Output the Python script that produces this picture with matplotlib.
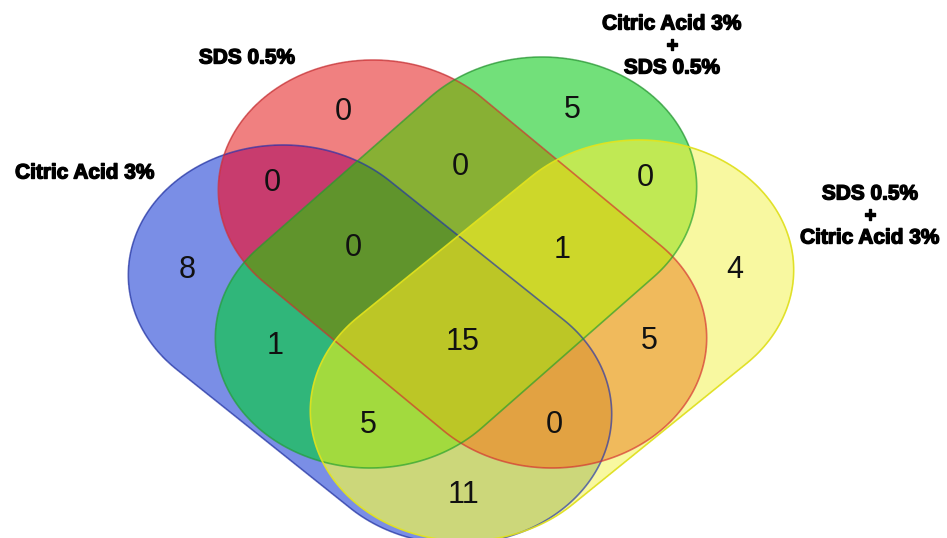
import numpy as np
import matplotlib
matplotlib.use('Agg')
import matplotlib.pyplot as plt
from matplotlib.path import Path
from matplotlib.patches import PathPatch
import matplotlib.patheffects as pe

W, H = 947, 538
STRETCH = 1.19   # picture is wider than tall, caps come out as half ellipses
RADIUS = 130

# sets: blue, red, green, yellow
set_names = ['Citric Acid 3%', 'SDS 0.5%',
             'Citric Acid 3%\n+\nSDS 0.5%', 'SDS 0.5%\n+\nCitric Acid 3%']
set_edges = ['#1c2fae', '#d42a2e', '#1f9e2c', '#e4e41c']

# region key = membership in (blue, red, green, yellow)
regions = ['1000', '0100', '0010', '0001', '1100', '0110', '0011', '1010',
           '0101', '1001', '1110', '0111', '1011', '1101', '1111']
counts = [8, 0, 5, 4, 0, 0, 0, 1, 5, 11, 0, 1, 5, 0, 15]
region_colors = ['#7a8ee6', '#f08080', '#72e07a', '#f8f8a0', '#c83c6e',
                 '#88b034', '#c0ea54', '#30b67a', '#f0ba5c', '#ccd87a',
                 '#60942c', '#cdd82a', '#a2da3e', '#e2a242', '#bcc626']

# layout (pixels)
caps = [((283, 275), (457, 414)),
        ((373, 190), (552, 338)),
        ((542, 187), (370, 338)),
        ((639, 270), (465, 411))]
count_pos = [(187, 270), (343, 112), (572, 110), (735, 270), (272, 183),
             (460, 167), (645, 178), (275, 346), (649, 341), (463, 495),
             (353, 248), (562, 250), (368, 425), (554, 425), (463, 342)]
name_pos = [(85, 173), (247, 58), (672, 46), (870, 216)]


def stadium(c1, c2, r=RADIUS, s=STRETCH, n=120):
    u1 = np.array([c1[0] / s, c1[1]])
    u2 = np.array([c2[0] / s, c2[1]])
    d = u2 - u1
    phi = np.arctan2(d[1], d[0])
    t2 = np.linspace(phi - np.pi / 2, phi + np.pi / 2, n)
    t1 = np.linspace(phi + np.pi / 2, phi + 3 * np.pi / 2, n)
    pts = np.vstack([u2 + r * np.c_[np.cos(t2), np.sin(t2)],
                     u1 + r * np.c_[np.cos(t1), np.sin(t1)]])
    pts[:, 0] *= s
    return Path(np.vstack([pts, pts[:1]]), closed=True)


paths = [stadium(a, b) for a, b in caps]

# fill each region with its own colour on a 2x grid
k = 2
xs = (np.arange(W * k) + 0.5) / k
ys = (np.arange(H * k) + 0.5) / k
gx, gy = np.meshgrid(xs, ys)
pts = np.c_[gx.ravel(), gy.ravel()]
inside = [p.contains_points(pts).reshape(gx.shape) for p in paths]

img = np.zeros(gx.shape + (4,))
for key, col in zip(regions, region_colors):
    mask = np.ones(gx.shape, bool)
    for i, ch in enumerate(key):
        mask &= inside[i] if ch == '1' else ~inside[i]
    img[mask] = matplotlib.colors.to_rgba(col)

fig = plt.figure(figsize=(W / 100, H / 100), dpi=100)
ax = fig.add_axes([0, 0, 1, 1])
ax.set_xlim(0, W)
ax.set_ylim(H, 0)
ax.axis('off')

ax.imshow(img, extent=(0, W, H, 0), interpolation='antialiased', zorder=1)

for p, ec in zip(paths, set_edges):
    a = 0.9 if ec == '#e4e41c' else 0.65
    ax.add_patch(PathPatch(p, fill=False, edgecolor=ec, lw=1.2, alpha=a, zorder=2))

for key, n, (x, y) in zip(regions, counts, count_pos):
    ax.text(x, y, str(n), ha='center', va='center', fontsize=22,
            family='Liberation Sans', color='#111111', zorder=3)

heavy = [pe.withStroke(linewidth=1.0, foreground='black')]
for name, (x, y) in zip(set_names, name_pos):
    ax.text(x, y, name, ha='center', va='center', fontsize=15, fontweight='bold',
            family='Liberation Sans', linespacing=1.2, color='black',
            path_effects=heavy, zorder=3)

fig.savefig('out.png', dpi=100)
